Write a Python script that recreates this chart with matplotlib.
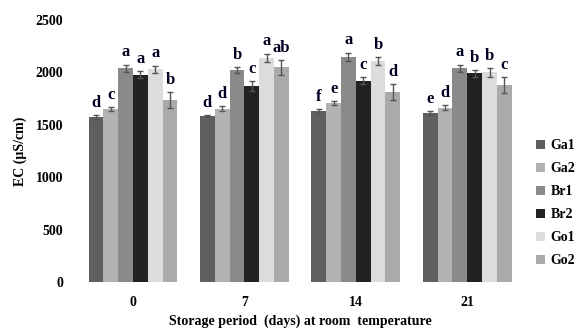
import matplotlib.pyplot as plt
import numpy as np

days = ["0", "7", "14", "21"]
cultivars = ["Ga1", "Ga2", "Br1", "Br2", "Go1", "Go2"]
colors = ["#5f5f5f", "#b2b2b2", "#8a8a8a", "#222222", "#dcdcdc", "#aaaaaa"]

# EC values per cultivar, one per storage day
ga1 = [1575, 1585, 1630, 1610]
ga2 = [1650, 1655, 1710, 1665]
br1 = [2040, 2020, 2150, 2040]
br2 = [1980, 1870, 1920, 1990]
go1 = [2030, 2140, 2110, 2000]
go2 = [1740, 2050, 1810, 1880]

ga1_err = [20, 10, 20, 20]
ga2_err = [20, 20, 20, 20]
br1_err = [35, 30, 40, 35]
br2_err = [30, 45, 35, 35]
go1_err = [35, 40, 40, 40]
go2_err = [75, 70, 75, 75]

ga1_let = ["d", "d", "f", "e"]
ga2_let = ["c", "d", "e", "d"]
br1_let = ["a", "b", "a", "a"]
br2_let = ["a", "c", "c", "b"]
go1_let = ["a", "a", "b", "b"]
go2_let = ["b", "ab", "d", "c"]

values = [ga1, ga2, br1, br2, go1, go2]
errors = [ga1_err, ga2_err, br1_err, br2_err, go1_err, go2_err]
letters = [ga1_let, ga2_let, br1_let, br2_let, go1_let, go2_let]

plt.rcParams['font.family'] = 'Liberation Serif'
plt.rcParams['font.weight'] = 'bold'

fig = plt.figure(figsize=(5.83, 3.29), dpi=100)
ax = fig.add_axes([0.1325, 0.143, 0.7646, 0.796])

x = np.arange(len(days))
w = 0.133
for i in range(len(cultivars)):
    pos = x + (i - 2.5) * w
    ax.bar(pos, values[i], w, color=colors[i], label=cultivars[i])
    ax.errorbar(pos, values[i], yerr=errors[i], fmt='none', ecolor='#555555',
                elinewidth=1, capsize=2.5, capthick=1)
    for j in range(len(days)):
        ax.annotate(letters[i][j], (pos[j], values[i][j] + errors[i][j]),
                    xytext=(0, 3), textcoords='offset points',
                    ha='center', va='bottom', fontsize=12, fontweight='bold',
                    color='#000020')

ax.set_xlim(-0.5, 3.5)
ax.set_ylim(0, 2500)
ax.set_yticks(range(0, 2501, 500))
ax.set_xticks(x)
ax.set_xticklabels(days)
ax.tick_params(length=0, labelsize=10, pad=10)
for lbl in ax.get_xticklabels() + ax.get_yticklabels():
    lbl.set_fontweight('bold')
for s in ax.spines.values():
    s.set_visible(False)

ax.set_ylabel("EC (µS/cm)", fontsize=10, fontweight='bold', labelpad=6)
ax.set_xlabel("Storage period  (days) at room  temperature", fontsize=10,
              fontweight='bold', labelpad=4)

ax.legend(loc='center left', bbox_to_anchor=(1.0, 0.30), frameon=False,
          handlelength=0.7, handleheight=0.7, handletextpad=0.4,
          labelspacing=0.72, prop={'weight': 'bold', 'size': 10})

fig.savefig("out.png", dpi=100)
